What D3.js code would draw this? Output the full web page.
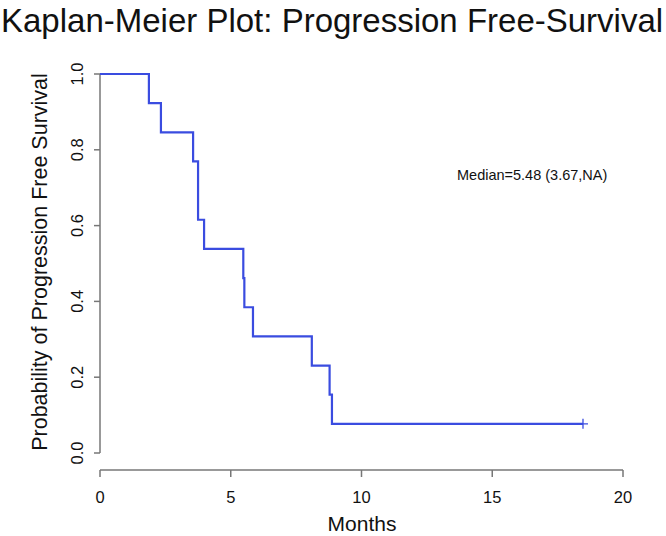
<!DOCTYPE html>
<html>
<head>
<meta charset="utf-8">
<script src="https://cdn.jsdelivr.net/npm/d3@7"></script>
<style>
  body { margin: 0; background: #fff; }
  text { font-family: "Liberation Sans", Arial, sans-serif; fill: #111; }
</style>
</head>
<body>
<svg id="km" width="666" height="536"></svg>
<script>
// event times (months) and survival after each step
var times    = [0, 1.87, 2.33, 3.56, 3.75, 3.98, 5.48, 5.52, 5.85, 8.1, 8.78, 8.87];
var survival = [1, 12/13, 11/13, 10/13, 8/13, 7/13, 6/13, 5/13, 4/13, 3/13, 2/13, 1/13];
var lastTime = 18.47;   // censored
var xTicks = [0, 5, 10, 15, 20];
var yTicks = [0, 0.2, 0.4, 0.6, 0.8, 1.0];

var svg = d3.select("#km");

var x = d3.scaleLinear().domain([0, 20]).range([100, 623]);
var y = d3.scaleLinear().domain([0, 1]).range([453, 74]);

var axisColor = "#777";

// title
svg.append("text")
  .attr("x", 1).attr("y", 32)
  .style("font-size", "33px")
  .text("Kaplan-Meier Plot: Progression Free-Survival");

// y axis
var gy = svg.append("g");
gy.append("line")
  .attr("x1", 100).attr("x2", 100)
  .attr("y1", y(0)).attr("y2", y(1))
  .attr("stroke", axisColor).attr("stroke-width", 1.5);
gy.selectAll("line.tk").data(yTicks).enter().append("line")
  .attr("class", "tk")
  .attr("x1", 94).attr("x2", 100)
  .attr("y1", function(d){ return y(d); })
  .attr("y2", function(d){ return y(d); })
  .attr("stroke", axisColor).attr("stroke-width", 1.5);
gy.selectAll("text").data(yTicks).enter().append("text")
  .attr("transform", function(d){ return "translate(83," + y(d) + ") rotate(-90)"; })
  .attr("text-anchor", "middle")
  .style("font-size", "16.5px")
  .text(function(d){ return d.toFixed(1); });

svg.append("text")
  .attr("transform", "translate(47,262) rotate(-90)")
  .attr("text-anchor", "middle")
  .style("font-size", "21.5px")
  .text("Probability of Progression Free Survival");

// x axis
var gx = svg.append("g");
gx.append("line")
  .attr("x1", x(0)).attr("x2", x(20))
  .attr("y1", 470).attr("y2", 470)
  .attr("stroke", axisColor).attr("stroke-width", 1.5);
gx.selectAll("line.tk").data(xTicks).enter().append("line")
  .attr("class", "tk")
  .attr("y1", 470).attr("y2", 477)
  .attr("x1", function(d){ return x(d); })
  .attr("x2", function(d){ return x(d); })
  .attr("stroke", axisColor).attr("stroke-width", 1.5);
gx.selectAll("text").data(xTicks).enter().append("text")
  .attr("x", function(d){ return x(d); })
  .attr("y", 503)
  .attr("text-anchor", "middle")
  .style("font-size", "16.5px")
  .text(function(d){ return d; });

svg.append("text")
  .attr("x", 362).attr("y", 531)
  .attr("text-anchor", "middle")
  .style("font-size", "21px")
  .text("Months");

// survival curve
var pts = times.map(function(t, i){ return [t, survival[i]]; });
pts.push([lastTime, survival[survival.length - 1]]);

var line = d3.line()
  .x(function(d){ return x(d[0]); })
  .y(function(d){ return y(d[1]); })
  .curve(d3.curveStepAfter);

svg.append("path")
  .datum(pts)
  .attr("d", line)
  .attr("fill", "none")
  .attr("stroke", "#3a4ce0")
  .attr("stroke-width", 2.2);

// censor mark
var cx = x(lastTime), cy = y(survival[survival.length - 1]);
svg.append("path")
  .attr("d", "M" + (cx - 5) + "," + cy + "H" + (cx + 5) + "M" + cx + "," + (cy - 5) + "V" + (cy + 5))
  .attr("stroke", "#3a4ce0").attr("stroke-width", 1.3);

// median annotation
svg.append("text")
  .attr("x", 457).attr("y", 180)
  .style("font-size", "14.5px")
  .text("Median=5.48 (3.67,NA)");
</script>
</body>
</html>
